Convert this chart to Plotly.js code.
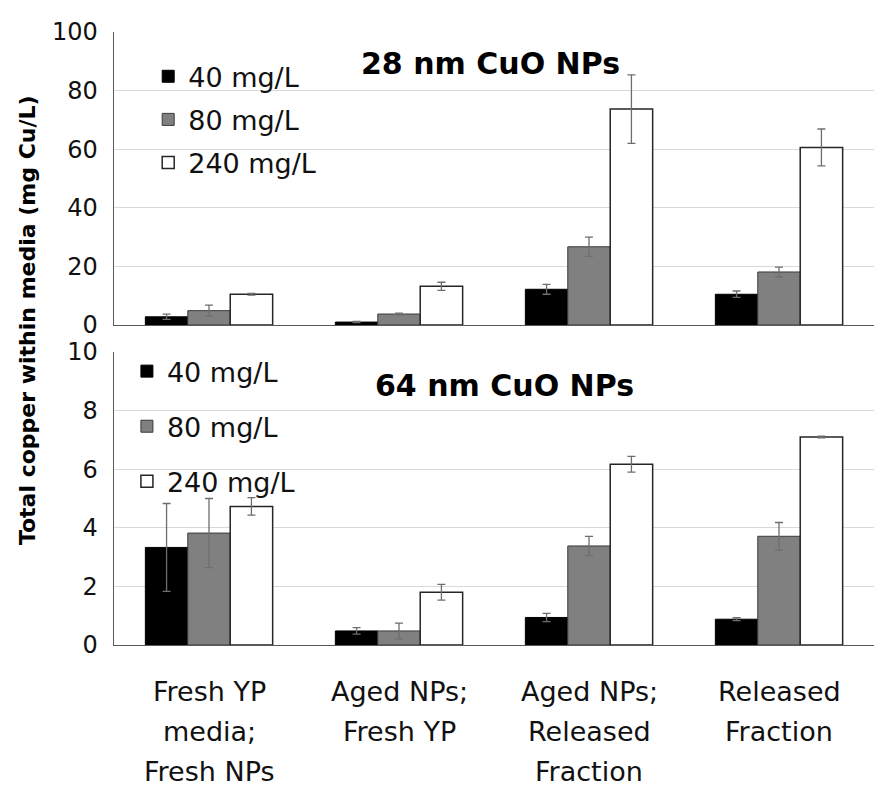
<!DOCTYPE html>
<html>
<head>
<meta charset="utf-8">
<script src="https://cdn.plot.ly/plotly-3.0.1.min.js"></script>
<style>html,body{margin:0;padding:0;background:#fff;}#chart{width:882px;height:788px;}</style>
</head>
<body>
<div id="chart"></div>
<script>
// ---- data ----
const categories = ['Fresh YP media; Fresh NPs', 'Aged NPs; Fresh YP', 'Aged NPs; Released Fraction', 'Released Fraction'];
const categoryLines = [['Fresh YP', 'media;', 'Fresh NPs'], ['Aged NPs;', 'Fresh YP'], ['Aged NPs;', 'Released', 'Fraction'], ['Released', 'Fraction']];
const seriesNames = ['40 mg/L', '80 mg/L', '240 mg/L'];

const top40 = [2.8, 1.0, 12.2, 10.5];
const top40Err = [0.9, 0.2, 1.7, 1.1];
const top80 = [4.9, 3.75, 26.7, 18.1];
const top80Err = [1.9, 0.3, 3.3, 1.65];
const top240 = [10.5, 13.2, 73.7, 60.6];
const top240Err = [0.3, 1.4, 11.7, 6.3];

const bot40 = [3.33, 0.48, 0.94, 0.88];
const bot40Err = [1.5, 0.11, 0.14, 0.05];
const bot80 = [3.82, 0.48, 3.38, 3.71];
const bot80Err = [1.18, 0.27, 0.33, 0.47];
const bot240 = [4.73, 1.8, 6.17, 7.1];
const bot240Err = [0.3, 0.27, 0.27, 0.03];

const topTitle = '28 nm CuO NPs';
const botTitle = '64 nm CuO NPs';
const yTitle = 'Total copper within media (mg Cu/L)';
const topTicks = [0, 20, 40, 60, 80, 100];
const botTicks = [0, 2, 4, 6, 8, 10];

// ---- styles ----
const FONT = 'DejaVu Sans, sans-serif';
const fills = ['#000000', '#808080', '#ffffff'];
const lines = [{color: '#000000', width: 1}, {color: '#3a3a3a', width: 1}, {color: '#262626', width: 1.5}];
const errStyle = {color: '#6e6e6e', thickness: 1.3, width: 4};

function bar(name, y, err, i, xa, ya, legend) {
  return {
    type: 'bar', name: name, x: categories, y: y,
    xaxis: xa, yaxis: ya, legend: legend, legendgroup: legend + i,
    marker: {color: fills[i], line: lines[i]},
    error_y: Object.assign({type: 'data', array: err, visible: true}, errStyle),
    hoverinfo: 'y'
  };
}

const data = [
  bar(seriesNames[0], top40, top40Err, 0, 'x', 'y', 'legend'),
  bar(seriesNames[1], top80, top80Err, 1, 'x', 'y', 'legend'),
  bar(seriesNames[2], top240, top240Err, 2, 'x', 'y', 'legend'),
  bar(seriesNames[0], bot40, bot40Err, 0, 'x2', 'y2', 'legend2'),
  bar(seriesNames[1], bot80, bot80Err, 1, 'x2', 'y2', 'legend2'),
  bar(seriesNames[2], bot240, bot240Err, 2, 'x2', 'y2', 'legend2')
];

const annotations = [];
categoryLines.forEach((ls, ci) => {
  ls.forEach((t, li) => {
    annotations.push({
      text: t, x: categories[ci], xref: 'x2', y: 0, yref: 'paper',
      xanchor: 'center', yanchor: 'middle', yshift: -46 - 40 * li,
      showarrow: false, font: {family: FONT, size: 27, color: '#111'}
    });
  });
});
annotations.push({text: '<b>' + topTitle + '</b>', x: 0.495, xref: 'paper', y: 0.949, yref: 'paper',
  xanchor: 'center', yanchor: 'middle', showarrow: false, font: {family: FONT, size: 30, color: '#000'}});
annotations.push({text: '<b>' + botTitle + '</b>', x: 0.514, xref: 'paper', y: 0.424, yref: 'paper',
  xanchor: 'center', yanchor: 'middle', showarrow: false, font: {family: FONT, size: 30, color: '#000'}});
annotations.push({text: '<b>' + yTitle + '</b>', x: 0, xref: 'paper', xshift: -87, y: 0.53, yref: 'paper',
  xanchor: 'center', yanchor: 'middle', textangle: -90, showarrow: false, font: {family: FONT, size: 22, color: '#000'}});

const yCommon = {
  showgrid: true, gridcolor: '#d9d9d9', gridwidth: 1,
  showline: true, linecolor: '#595959', linewidth: 1.3,
  ticks: '', ticklabelstandoff: 10, zeroline: false,
  tickfont: {family: FONT, size: 24, color: '#111'}
};
const xCommon = {
  type: 'category', categoryarray: categories, range: [-0.5, 3.5],
  showgrid: false, showline: true, linecolor: '#595959', linewidth: 1.3,
  ticks: '', showticklabels: false, zeroline: false, fixedrange: true
};

const legendCommon = {
  bgcolor: 'rgba(0,0,0,0)', borderwidth: 0, xanchor: 'left', yanchor: 'top',
  font: {family: FONT, size: 27, color: '#111'}, traceorder: 'grouped', itemclick: false
};

const layout = {
  width: 882, height: 788,
  margin: {l: 114, r: 8, t: 32, b: 143},
  paper_bgcolor: '#ffffff', plot_bgcolor: '#ffffff',
  barmode: 'group', bargap: 0.33, bargroupgap: 0,
  showlegend: true,
  xaxis: Object.assign({}, xCommon, {anchor: 'y'}),
  xaxis2: Object.assign({}, xCommon, {anchor: 'y2'}),
  yaxis: Object.assign({}, yCommon, {domain: [0.522, 1], range: [0, 100], tickvals: topTicks, anchor: 'x'}),
  yaxis2: Object.assign({}, yCommon, {domain: [0, 0.478], range: [0, 10], tickvals: botTicks, anchor: 'x2'}),
  legend: Object.assign({}, legendCommon, {x: 0.045, y: 0.967, tracegroupgap: 5}),
  legend2: Object.assign({}, legendCommon, {x: 0.017, y: 0.486, tracegroupgap: 17}),
  annotations: annotations
};

Plotly.newPlot('chart', data, layout, {displayModeBar: false, staticPlot: true});
</script>
</body>
</html>
